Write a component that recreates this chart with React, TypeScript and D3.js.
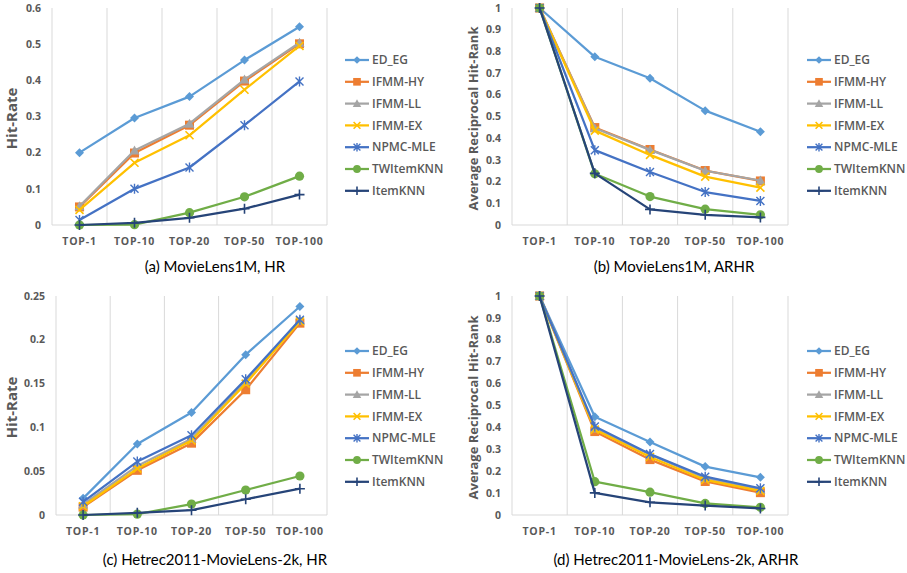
import React from "react";
import * as d3 from "d3";

// categories and series
const categories = ["TOP-1", "TOP-10", "TOP-20", "TOP-50", "TOP-100"];
const seriesNames = ["ED_EG", "IFMM-HY", "IFMM-LL", "IFMM-EX", "NPMC-MLE", "TWItemKNN", "ItemKNN"];
const seriesColors = ["#5B9BD5", "#ED7D31", "#A5A5A5", "#FFC000", "#4472C4", "#70AD47", "#264478"];
const markerTypes = ["diamond", "square", "triangle", "x", "star", "circle", "plus"];

// (a) MovieLens1M, HR
const hr1M = [
  [0.2, 0.296, 0.355, 0.456, 0.548],
  [0.05, 0.199, 0.276, 0.398, 0.501],
  [0.052, 0.206, 0.28, 0.402, 0.504],
  [0.042, 0.172, 0.248, 0.374, 0.495],
  [0.014, 0.1, 0.159, 0.276, 0.397],
  [0, 0.001, 0.034, 0.078, 0.135],
  [0, 0.006, 0.02, 0.045, 0.084],
];

// (b) MovieLens1M, ARHR
const arhr1M = [
  [1, 0.775, 0.676, 0.527, 0.43],
  [1, 0.449, 0.348, 0.251, 0.203],
  [1, 0.446, 0.346, 0.25, 0.205],
  [1, 0.435, 0.323, 0.223, 0.172],
  [1, 0.345, 0.244, 0.152, 0.111],
  [1, 0.236, 0.131, 0.073, 0.047],
  [1, 0.238, 0.072, 0.047, 0.035],
];

// (c) Hetrec2011-MovieLens-2k, HR
const hr2k = [
  [0.019, 0.081, 0.117, 0.183, 0.238],
  [0.009, 0.051, 0.082, 0.143, 0.219],
  [0.012, 0.056, 0.087, 0.153, 0.222],
  [0.01, 0.053, 0.085, 0.15, 0.221],
  [0.015, 0.061, 0.091, 0.155, 0.223],
  [0, 0.001, 0.0125, 0.0285, 0.0445],
  [0, 0.0025, 0.0055, 0.018, 0.03],
];

// (d) Hetrec2011-MovieLens-2k, ARHR
const arhr2k = [
  [1, 0.449, 0.333, 0.221, 0.172],
  [1, 0.381, 0.253, 0.153, 0.102],
  [1, 0.395, 0.276, 0.168, 0.116],
  [1, 0.39, 0.265, 0.16, 0.11],
  [1, 0.404, 0.278, 0.175, 0.122],
  [1, 0.152, 0.104, 0.053, 0.035],
  [1, 0.101, 0.058, 0.043, 0.03],
];

const hrTicks1M = [0, 0.1, 0.2, 0.3, 0.4, 0.5, 0.6];
const hrTicks2k = [0, 0.05, 0.1, 0.15, 0.2, 0.25];
const arhrTicks = [0, 0.1, 0.2, 0.3, 0.4, 0.5, 0.6, 0.7, 0.8, 0.9, 1];

const textColor = "#595959";
const gridColor = "#D9D9D9";
const tickFont = "'Open Sans', sans-serif";

const Marker = ({ type, x, y, color, s = 1 }: { type: string; x: number; y: number; color: string; s?: number }) => {
  switch (type) {
    case "diamond":
      return <path d={`M${x},${y - 4.5 * s}L${x + 4.5 * s},${y}L${x},${y + 4.5 * s}L${x - 4.5 * s},${y}Z`} fill={color} />;
    case "square":
      return <rect x={x - 4.5 * s} y={y - 4.5 * s} width={9 * s} height={9 * s} fill={color} />;
    case "triangle":
      return <path d={`M${x},${y - 5 * s}L${x + 5 * s},${y + 4 * s}L${x - 5 * s},${y + 4 * s}Z`} fill={color} />;
    case "x":
      return (
        <path
          d={`M${x - 4 * s},${y - 4 * s}L${x + 4 * s},${y + 4 * s}M${x - 4 * s},${y + 4 * s}L${x + 4 * s},${y - 4 * s}`}
          stroke={color}
          strokeWidth={1.6}
        />
      );
    case "star":
      return (
        <path
          d={`M${x - 4 * s},${y - 4 * s}L${x + 4 * s},${y + 4 * s}M${x - 4 * s},${y + 4 * s}L${x + 4 * s},${y - 4 * s}M${x},${y - 5 * s}L${x},${y + 5 * s}`}
          stroke={color}
          strokeWidth={1.4}
        />
      );
    case "circle":
      return <circle cx={x} cy={y} r={4.6 * s} fill={color} />;
    case "plus":
      return (
        <path
          d={`M${x - 5 * s},${y}L${x + 5 * s},${y}M${x},${y - 5 * s}L${x},${y + 5 * s}`}
          stroke={color}
          strokeWidth={1.6}
        />
      );
    default:
      return null;
  }
};

type PanelProps = {
  left: number;
  top: number;
  width: number;
  height: number;
  data: number[][];
  ticks: number[];
  yMax: number;
  yLabel: string;
  yLabelSize: number;
  yLabelX: number;
  legendX: number;
  legendY: number;
  caption: string;
  captionX: number;
  captionY: number;
};

const Panel = (p: PanelProps) => {
  const x = d3.scaleBand<string>().domain(categories).range([p.left, p.left + p.width]);
  const y = d3.scaleLinear().domain([0, p.yMax]).range([p.top + p.height, p.top]);
  const cx = (i: number) => (x(categories[i]) as number) + x.bandwidth() / 2;
  const line = d3
    .line<number>()
    .x((_, i) => cx(i))
    .y((d) => y(d));
  const bounds = categories.map((c) => x(c) as number).concat([p.left + p.width]);
  return (
    <g>
      {bounds.map((b, i) => (
        <line key={i} x1={b} x2={b} y1={p.top} y2={p.top + p.height} stroke={gridColor} strokeWidth={1} />
      ))}
      <line x1={p.left} x2={p.left + p.width} y1={p.top + p.height} y2={p.top + p.height} stroke={gridColor} strokeWidth={1} />
      {p.ticks.map((t) => (
        <text
          key={t}
          x={p.left - 11}
          y={y(t)}
          dy="0.35em"
          textAnchor="end"
          fontFamily={tickFont}
          fontWeight={700}
          fontSize={10.5}
          fill={textColor}
        >
          {d3.format("~g")(t)}
        </text>
      ))}
      {categories.map((c, i) => (
        <text
          key={c}
          x={cx(i)}
          y={p.top + p.height + 16}
          dy="0.35em"
          textAnchor="middle"
          fontFamily={tickFont}
          fontWeight={700}
          fontSize={10.5}
          letterSpacing={0.8}
          fill={textColor}
        >
          {c}
        </text>
      ))}
      <text
        transform={`translate(${p.yLabelX},${p.top + p.height / 2 + 2}) rotate(-90)`}
        textAnchor="middle"
        dy="0.35em"
        fontFamily={tickFont}
        fontWeight={700}
        fontSize={p.yLabelSize}
        fill={textColor}
      >
        {p.yLabel}
      </text>
      {p.data.map((s, i) => (
        <g key={seriesNames[i]}>
          <path d={line(s) as string} fill="none" stroke={seriesColors[i]} strokeWidth={2.25} strokeLinejoin="round" />
          {s.map((v, j) => (
            <Marker key={j} type={markerTypes[i]} x={cx(j)} y={y(v)} color={seriesColors[i]} />
          ))}
        </g>
      ))}
      {seriesNames.map((n, i) => {
        const ly = p.legendY + i * 21.8;
        return (
          <g key={n}>
            <line x1={p.legendX} x2={p.legendX + 24} y1={ly} y2={ly} stroke={seriesColors[i]} strokeWidth={2.25} />
            <Marker type={markerTypes[i]} x={p.legendX + 12} y={ly} color={seriesColors[i]} s={0.85} />
            <text
              x={p.legendX + 27}
              y={ly}
              dy="0.35em"
              fontFamily={tickFont}
              fontWeight={600}
              fontSize={12}
              fill={textColor}
            >
              {n}
            </text>
          </g>
        );
      })}
      <text x={p.captionX} y={p.captionY} dy="0.35em" textAnchor="middle" fontFamily="Lato, sans-serif" fontSize={15} fill="#000">
        {p.caption}
      </text>
    </g>
  );
};

export default function App() {
  return (
    <svg width={907} height={573} style={{ position: "absolute", left: 0, top: 0, background: "#fff" }}>
      <Panel
        left={52}
        top={8}
        width={275}
        height={217}
        data={hr1M}
        ticks={hrTicks1M}
        yMax={0.6}
        yLabel="Hit-Rate"
        yLabelSize={15}
        yLabelX={12}
        legendX={345}
        legendY={60}
        caption="(a) MovieLens1M, HR"
        captionX={215}
        captionY={267}
      />
      <Panel
        left={512}
        top={8}
        width={276}
        height={217}
        data={arhr1M}
        ticks={arhrTicks}
        yMax={1}
        yLabel="Average Reciprocal Hit-Rank"
        yLabelSize={13}
        yLabelX={473}
        legendX={807}
        legendY={60}
        caption="(b) MovieLens1M, ARHR"
        captionX={674}
        captionY={267}
      />
      <Panel
        left={56}
        top={296}
        width={271}
        height={219}
        data={hr2k}
        ticks={hrTicks2k}
        yMax={0.25}
        yLabel="Hit-Rate"
        yLabelSize={15}
        yLabelX={12}
        legendX={345}
        legendY={351}
        caption="(c) Hetrec2011-MovieLens-2k, HR"
        captionX={215}
        captionY={560}
      />
      <Panel
        left={512}
        top={296}
        width={276}
        height={219}
        data={arhr2k}
        ticks={arhrTicks}
        yMax={1}
        yLabel="Average Reciprocal Hit-Rank"
        yLabelSize={13}
        yLabelX={473}
        legendX={807}
        legendY={351}
        caption="(d) Hetrec2011-MovieLens-2k, ARHR"
        captionX={676}
        captionY={560}
      />
    </svg>
  );
}
